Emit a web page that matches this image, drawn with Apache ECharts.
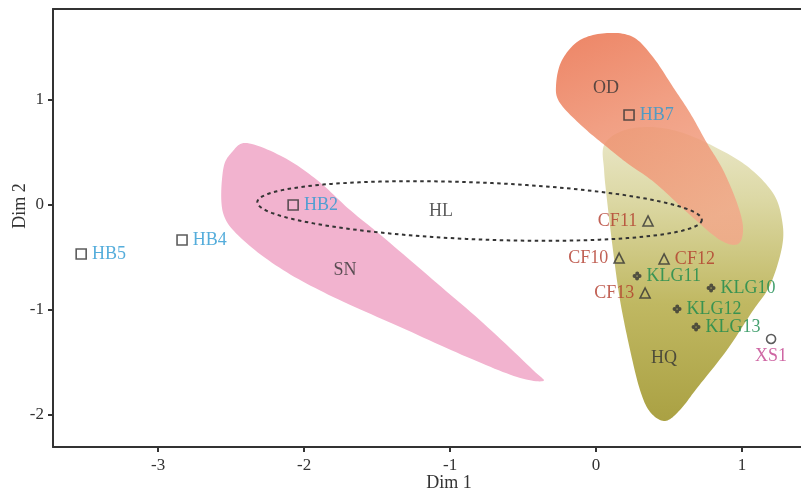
<!DOCTYPE html>
<html>
<head>
<meta charset="utf-8">
<script src="https://cdn.jsdelivr.net/npm/echarts@6/dist/echarts.min.js"></script>
<style>
  html, body { margin: 0; padding: 0; background: #fff; }
  #chart { width: 801px; height: 491px; }
</style>
</head>
<body>
<div id="chart"></div>
<script>
// sample points (Dim 1, Dim 2)
const hbNames = ['HB2', 'HB4', 'HB5', 'HB7'];
const hbX = [-2.075, -2.836, -3.527, 0.226];
const hbY = [0.0, -0.333, -0.467, 0.857];

const cfNames = ['CF10', 'CF11', 'CF12', 'CF13'];
const cfX = [0.158, 0.356, 0.466, 0.336];
const cfY = [-0.505, -0.152, -0.514, -0.838];

const klgNames = ['KLG10', 'KLG11', 'KLG12', 'KLG13'];
const klgX = [0.788, 0.281, 0.555, 0.685];
const klgY = [-0.790, -0.676, -0.990, -1.162];

const xsNames = ['XS1'];
const xsX = [1.199];
const xsY = [-1.276];

// group outlines (data coords, clockwise)
const snX = [-2.390, -2.144, -1.911, -1.685, -1.459, -1.116, -0.774, -0.432, -0.363, -0.541, -0.884, -1.342, -1.801, -2.144, -2.418, -2.555, -2.555, -2.493];
const snY = [0.590, 0.457, 0.238, -0.048, -0.305, -0.714, -1.124, -1.571, -1.676, -1.638, -1.448, -1.162, -0.876, -0.619, -0.333, -0.076, 0.333, 0.505];

const odX = [0.075, 0.253, 0.390, 0.527, 0.644, 0.760, 0.870, 0.966, 1.007, 0.973, 0.849, 0.644, 0.404, 0.212, 0.075, -0.089, -0.247, -0.274, -0.233, -0.110];
const odY = [1.638, 1.600, 1.410, 1.124, 0.876, 0.590, 0.333, 0.019, -0.219, -0.371, -0.333, -0.095, 0.210, 0.400, 0.552, 0.743, 0.971, 1.143, 1.381, 1.571];

const hqX = [0.055, 0.178, 0.370, 0.575, 0.801, 1.034, 1.212, 1.274, 1.274, 1.192, 1.068, 0.897, 0.692, 0.575, 0.473, 0.370, 0.301, 0.233, 0.164, 0.116, 0.075, 0.055];
const hqY = [0.571, 0.705, 0.743, 0.695, 0.562, 0.371, 0.114, -0.143, -0.400, -0.762, -1.019, -1.381, -1.743, -1.952, -2.057, -1.971, -1.762, -1.381, -0.905, -0.429, 0.048, 0.333];

// HL ellipse
const hlCenter = [-0.798, -0.057];
const hlRadius = [1.524, 0.271];

// group names
const groupNames = ['OD', 'HL', 'SN', 'HQ'];
const groupX = [0.068, -1.062, -1.719, 0.466];
const groupY = [1.114, -0.057, -0.619, -1.457];

const xTicks = [-3, -2, -1, 0, 1];
const yTicks = [-2, -1, 0, 1];

const FONT = 'Liberation Serif';
const AXIS = '#333';

const chart = echarts.init(document.getElementById('chart'), null, { renderer: 'canvas' });

// closed catmull-rom through the outline points, sampled into a polygon
function smoothClosed(pts) {
  const out = [];
  const n = pts.length;
  for (let i = 0; i < n; i++) {
    const p0 = pts[(i - 1 + n) % n], p1 = pts[i], p2 = pts[(i + 1) % n], p3 = pts[(i + 2) % n];
    for (let s = 0; s < 12; s++) {
      const t = s / 12, t2 = t * t, t3 = t2 * t;
      out.push([0, 1].map(function (k) {
        return 0.5 * ((2 * p1[k]) + (-p0[k] + p2[k]) * t +
          (2 * p0[k] - 5 * p1[k] + 4 * p2[k] - p3[k]) * t2 +
          (-p0[k] + 3 * p1[k] - 3 * p2[k] + p3[k]) * t3);
      }));
    }
  }
  return out;
}

function regionSeries(xs, ys, fill, opacity, z) {
  return {
    type: 'custom',
    silent: true,
    z: z,
    data: [[xs[0], ys[0]]],
    encode: { x: 0, y: 1 },
    renderItem: function (params, api) {
      const pts = xs.map(function (x, i) { return api.coord([x, ys[i]]); });
      return {
        type: 'polygon',
        shape: { points: smoothClosed(pts) },
        style: { fill: fill, opacity: opacity }
      };
    }
  };
}

function pointData(names, xs, ys) {
  return names.map(function (n, i) { return { name: n, value: [xs[i], ys[i]] }; });
}

const labelSide = { CF10: 'left', CF11: 'left', CF13: 'left', XS1: 'bottom' };

function pointSeries(names, xs, ys, symbol, size, fill, labelColor) {
  return {
    type: 'scatter',
    z: 10,
    symbol: symbol,
    symbolSize: size,
    itemStyle: { color: fill, borderColor: '#333', borderWidth: fill === 'transparent' ? 1.6 : 0 },
    label: {
      show: true,
      formatter: '{b}',
      fontFamily: FONT,
      fontSize: 18,
      color: labelColor,
      distance: 5
    },
    emphasis: { disabled: true },
    data: pointData(names, xs, ys).map(function (d) {
      const side = labelSide[d.name];
      if (side) d.label = { position: side, distance: side === 'bottom' ? 3 : 5 };
      else d.label = { position: 'right' };
      return d;
    })
  };
}

const flower = 'path://M3,2.2a2.2,2.2 0 1,0 4.4,0a2.2,2.2 0 1,0 -4.4,0Z' +
  'M5.6,5a2.2,2.2 0 1,0 4.4,0a2.2,2.2 0 1,0 -4.4,0Z' +
  'M2.8,7.8a2.2,2.2 0 1,0 4.4,0a2.2,2.2 0 1,0 -4.4,0Z' +
  'M0,5a2.2,2.2 0 1,0 4.4,0a2.2,2.2 0 1,0 -4.4,0Z';

const odFill = new echarts.graphic.LinearGradient(0, 0, 0.5, 1, [
  { offset: 0, color: '#e96a44' },
  { offset: 0.45, color: '#ee8a68' },
  { offset: 1, color: '#f3a689' }
]);
const hqFill = new echarts.graphic.LinearGradient(0, 0, 0, 1, [
  { offset: 0, color: '#ebe8cb' },
  { offset: 0.25, color: '#dcd8a4' },
  { offset: 0.6, color: '#c0b862' },
  { offset: 1, color: '#aaa143' }
]);

const option = {
  animation: false,
  backgroundColor: '#fff',
  grid: { left: 53, right: 0, top: 9, bottom: 44, outerBoundsMode: 'none' },
  xAxis: [{
    type: 'value',
    min: -3.72,
    max: 1.404,
    name: 'Dim 1',
    nameLocation: 'middle',
    nameGap: 27,
    nameMoveOverlap: false,
    nameTextStyle: { fontFamily: FONT, fontSize: 18, color: AXIS, padding: [0, 0, 0, 44] },
    axisLine: { show: true, onZero: false, lineStyle: { color: AXIS, width: 2 } },
    axisTick: { show: true, length: 5, customValues: xTicks, lineStyle: { color: AXIS, width: 2 } },
    axisLabel: { customValues: xTicks, margin: 10, fontFamily: FONT, fontSize: 17, color: AXIS },
    splitLine: { show: false }
  }, {
    type: 'value',
    position: 'top',
    min: -3.72,
    max: 1.404,
    axisLine: { show: true, onZero: false, lineStyle: { color: AXIS, width: 2 } },
    axisTick: { show: false },
    axisLabel: { show: false },
    splitLine: { show: false }
  }],
  yAxis: {
    type: 'value',
    min: -2.305,
    max: 1.867,
    name: 'Dim 2',
    nameLocation: 'middle',
    nameGap: 24,
    nameMoveOverlap: false,
    nameTextStyle: { fontFamily: FONT, fontSize: 18, color: AXIS, padding: [0, 0, 0, 44] },
    axisLine: { show: true, onZero: false, lineStyle: { color: AXIS, width: 2 } },
    axisTick: { show: true, length: 5, customValues: yTicks, lineStyle: { color: AXIS, width: 2 } },
    axisLabel: { customValues: yTicks, margin: 9, fontFamily: FONT, fontSize: 17, color: AXIS },
    splitLine: { show: false }
  },
  series: [
    regionSeries(snX, snY, '#f2b3cf', 1, 1),
    regionSeries(hqX, hqY, hqFill, 1, 2),
    regionSeries(odX, odY, odFill, 0.82, 3),
    {
      type: 'custom',
      silent: true,
      z: 5,
      data: [hlCenter],
      encode: { x: 0, y: 1 },
      renderItem: function (params, api) {
        const c = api.coord(hlCenter);
        const rx = api.size([hlRadius[0], 0])[0];
        const ry = api.size([0, hlRadius[1]])[1];
        const tilt = 2.3 * Math.PI / 180;
        const pts = [];
        for (let k = 0; k < 120; k++) {
          const t = k / 120 * Math.PI * 2;
          const ex = rx * Math.cos(t), ey = ry * Math.sin(t);
          pts.push([c[0] + ex * Math.cos(tilt) - ey * Math.sin(tilt),
                    c[1] + ex * Math.sin(tilt) + ey * Math.cos(tilt)]);
        }
        return {
          type: 'polygon',
          shape: { points: pts },
          style: { fill: null, stroke: '#333', lineWidth: 2, lineDash: [3.5, 3.5] }
        };
      }
    },
    {
      type: 'scatter',
      symbol: 'circle',
      symbolSize: 1,
      z: 6,
      silent: true,
      itemStyle: { color: 'rgba(0,0,0,0)' },
      label: { show: true, position: 'inside', formatter: '{b}', fontFamily: FONT, fontSize: 18, color: '#333' },
      data: pointData(groupNames, groupX, groupY)
    },
    pointSeries(hbNames, hbX, hbY, 'rect', 10, 'transparent', '#2a98d2'),
    pointSeries(cfNames, cfX, cfY, 'triangle', 10, 'transparent', '#b23a2b'),
    pointSeries(klgNames, klgX, klgY, flower, 9, '#333', '#168a4c'),
    pointSeries(xsNames, xsX, xsY, 'circle', 9, 'transparent', '#c2408c')
  ]
};

chart.setOption(option);
</script>
</body>
</html>
